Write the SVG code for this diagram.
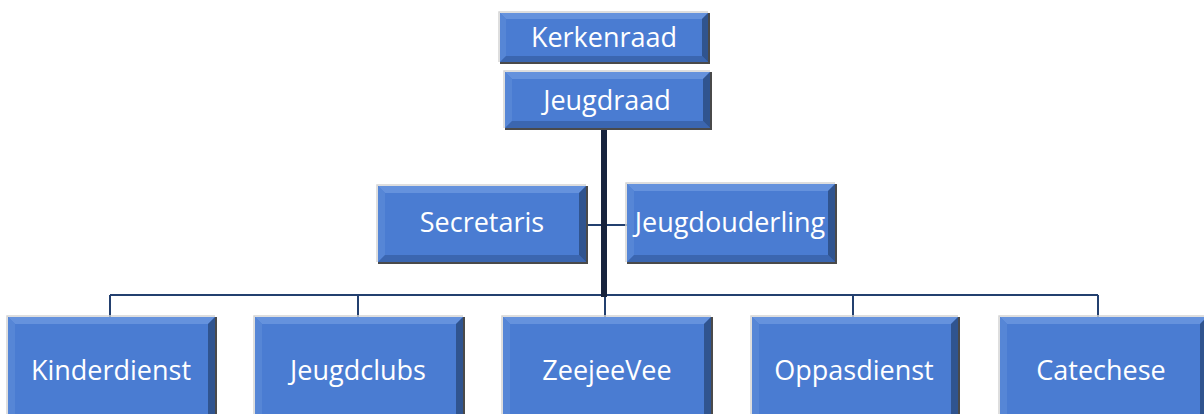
<svg xmlns="http://www.w3.org/2000/svg" width="1204" height="414" viewBox="0 0 1204 414">
<style>
.face{fill:#4a7cd2}
.bt{fill:#6592dd}
.bl{fill:#5686d6}
.bb{fill:#3b66b0}
.br{fill:#30548f}
.hl{stroke:#d4d4d4;stroke-width:1.5;fill:none}
.sh{stroke:#4a4a4a;stroke-width:2;fill:none}
.lbl{font-family:"Open Sans","Liberation Sans",sans-serif;font-size:27px;fill:#ffffff;text-anchor:middle}
.thin{stroke:#23406f;stroke-width:2;fill:none}
.thick{stroke:#17233d;stroke-width:6;fill:none}
</style>
<rect width="1204" height="414" fill="#ffffff"/>
<g id="connectors">
<line class="thin" x1="110" y1="295" x2="1098" y2="295"/>
<line class="thin" x1="110" y1="295" x2="110" y2="317"/>
<line class="thin" x1="358" y1="295" x2="358" y2="317"/>
<line class="thin" x1="605" y1="295" x2="605" y2="317"/>
<line class="thin" x1="853" y1="295" x2="853" y2="317"/>
<line class="thin" x1="1098" y1="295" x2="1098" y2="317"/>
<line class="thin" x1="586" y1="225" x2="627" y2="225"/>
<line class="thick" x1="604" y1="128" x2="604" y2="297"/>
</g>
<g id="kerkenraad">
<rect class="face" x="500" y="13" width="208" height="49"/>
<polygon class="bt" points="500,13 708,13 702,19 506,19"/>
<polygon class="bl" points="500,13 506,19 506,56 500,62"/>
<polygon class="bb" points="500,62 506,56 702,56 708,62"/>
<polygon class="br" points="708,13 708,62 702,56 702,19"/>
<polyline class="hl" points="499,62 499,12 708,12"/>
<polyline class="sh" points="709,13 709,63 500,63"/>
<text class="lbl" x="604" y="47">Kerkenraad</text>
</g>
<g id="jeugdraad">
<rect class="face" x="505" y="72" width="205" height="56"/>
<polygon class="bt" points="505,72 710,72 703,79 512,79"/>
<polygon class="bl" points="505,72 512,79 512,121 505,128"/>
<polygon class="bb" points="505,128 512,121 703,121 710,128"/>
<polygon class="br" points="710,72 710,128 703,121 703,79"/>
<polyline class="hl" points="504,128 504,71 710,71"/>
<polyline class="sh" points="711,72 711,129 505,129"/>
<text class="lbl" x="607" y="110">Jeugdraad</text>
</g>
<g id="secretaris">
<rect class="face" x="378" y="186" width="208" height="76"/>
<polygon class="bt" points="378,186 586,186 579,193 385,193"/>
<polygon class="bl" points="378,186 385,193 385,255 378,262"/>
<polygon class="bb" points="378,262 385,255 579,255 586,262"/>
<polygon class="br" points="586,186 586,262 579,255 579,193"/>
<polyline class="hl" points="377,262 377,185 586,185"/>
<polyline class="sh" points="587,186 587,263 378,263"/>
<text class="lbl" x="482" y="232">Secretaris</text>
</g>
<g id="jeugdouderling">
<rect class="face" x="627" y="184" width="208" height="78"/>
<polygon class="bt" points="627,184 835,184 828,191 634,191"/>
<polygon class="bl" points="627,184 634,191 634,255 627,262"/>
<polygon class="bb" points="627,262 634,255 828,255 835,262"/>
<polygon class="br" points="835,184 835,262 828,255 828,191"/>
<polyline class="hl" points="626,262 626,183 835,183"/>
<polyline class="sh" points="836,184 836,263 627,263"/>
<text class="lbl" x="730" y="232">Jeugdouderling</text>
</g>
<g id="kinderdienst">
<rect class="face" x="8" y="317" width="207" height="110"/>
<polygon class="bt" points="8,317 215,317 208,324 15,324"/>
<polygon class="bl" points="8,317 15,324 15,420 8,427"/>
<polygon class="br" points="215,317 215,427 208,420 208,324"/>
<polyline class="hl" points="7,427 7,316 215,316"/>
<polyline class="sh" points="216,317 216,427"/>
<text class="lbl" x="111" y="380">Kinderdienst</text>
</g>
<g id="jeugdclubs">
<rect class="face" x="255" y="317" width="208" height="110"/>
<polygon class="bt" points="255,317 463,317 456,324 262,324"/>
<polygon class="bl" points="255,317 262,324 262,420 255,427"/>
<polygon class="br" points="463,317 463,427 456,420 456,324"/>
<polyline class="hl" points="254,427 254,316 463,316"/>
<polyline class="sh" points="464,317 464,427"/>
<text class="lbl" x="358" y="380">Jeugdclubs</text>
</g>
<g id="zeejeevee">
<rect class="face" x="503" y="317" width="208" height="110"/>
<polygon class="bt" points="503,317 711,317 704,324 510,324"/>
<polygon class="bl" points="503,317 510,324 510,420 503,427"/>
<polygon class="br" points="711,317 711,427 704,420 704,324"/>
<polyline class="hl" points="502,427 502,316 711,316"/>
<polyline class="sh" points="712,317 712,427"/>
<text class="lbl" x="607" y="380">ZeejeeVee</text>
</g>
<g id="oppasdienst">
<rect class="face" x="752" y="317" width="206" height="110"/>
<polygon class="bt" points="752,317 958,317 951,324 759,324"/>
<polygon class="bl" points="752,317 759,324 759,420 752,427"/>
<polygon class="br" points="958,317 958,427 951,420 951,324"/>
<polyline class="hl" points="751,427 751,316 958,316"/>
<polyline class="sh" points="959,317 959,427"/>
<text class="lbl" x="854" y="380">Oppasdienst</text>
</g>
<g id="catechese">
<rect class="face" x="1000" y="317" width="207" height="110"/>
<polygon class="bt" points="1000,317 1207,317 1200,324 1007,324"/>
<polygon class="bl" points="1000,317 1007,324 1007,420 1000,427"/>
<polygon class="br" points="1207,317 1207,427 1200,420 1200,324"/>
<polyline class="hl" points="999,427 999,316 1207,316"/>
<text class="lbl" x="1101" y="380">Catechese</text>
</g>
</svg>
